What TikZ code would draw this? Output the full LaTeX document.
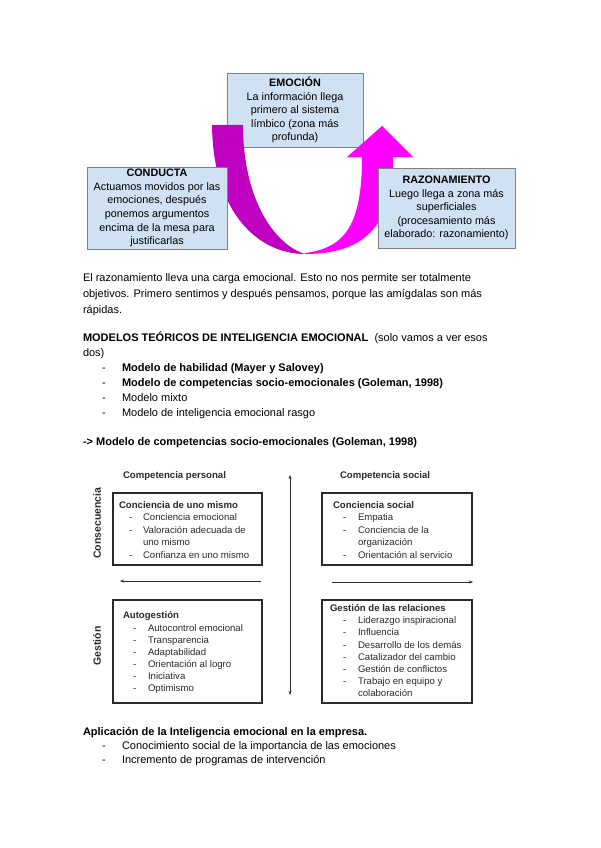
\documentclass[tikz,border=0pt]{standalone}
\usepackage{fontspec}
\setmainfont{Liberation Sans}
\usetikzlibrary{arrows.meta}
\definecolor{boxblue}{HTML}{CFE1F3}
\definecolor{boxline}{HTML}{808080}
\definecolor{magdark}{HTML}{C000C0}
\definecolor{magbright}{HTML}{FF00FF}
\definecolor{ink}{HTML}{2A2A2A}
\begin{document}
\begin{tikzpicture}[x=1pt,y=-1pt,
  every node/.style={inner sep=0pt,outer sep=0pt},
  topbox/.style={draw=boxline,fill=boxblue,line width=0.8pt,align=center,
    font=\fontsize{10.8}{13.6}\selectfont},
  body/.style={anchor=base west,font=\fontsize{11}{15}\selectfont},
  small/.style={anchor=base west,text=ink,font=\fontsize{9.6}{12}\selectfont},
  smallb/.style={small,font=\fontsize{9.6}{12}\selectfont\bfseries},
  compbox/.style={draw=ink,line width=1.2pt},
  thinarrow/.style={draw=ink,line width=0.6pt,-{Stealth[length=4pt,width=3pt]}}]
\useasboundingbox[fill=white] (0,0) rectangle (600,848);

% ---------- top diagram ----------
\node[topbox,minimum width=136pt,minimum height=74pt] (emo) at (295,110)
  {\textbf{EMOCIÓN}\\La información llega\\primero al sistema\\límbico (zona más\\profunda)};

\fill[magdark] (212,125) .. controls (213,215) and (260,254) .. (305,254)
  .. controls (275,245) and (243,200) .. (243,125) -- cycle;
\fill[magbright] (305,254) .. controls (370,254) and (393,220) .. (393,157)
  -- (413,157) -- (382,126) -- (347,157) -- (362,157)
  .. controls (362,225) and (345,248) .. (305,253) -- cycle;

\node[topbox,minimum width=140pt,minimum height=82pt] (cond) at (157,208)
  {\textbf{CONDUCTA}\\Actuamos movidos por las\\emociones, después\\ponemos argumentos\\encima de la mesa para\\justificarlas};
\node[topbox,minimum width=137pt,minimum height=80pt] (razo) at (446.5,208)
  {\textbf{RAZONAMIENTO}\\Luego llega a zona más\\superficiales\\(procesamiento más\\elaborado: razonamiento)};

% ---------- body text ----------
\node[body] (p1) at (83,281) {El razonamiento lleva una carga emocional. Esto no nos permite ser totalmente};
\node[body] (p2) at (83,297) {objetivos. Primero sentimos y después pensamos, porque las amígdalas son más};
\node[body] (p3) at (83,313) {rápidas.};

\node[body] (h1) at (83,341) {\textbf{MODELOS TEÓRICOS DE INTELIGENCIA EMOCIONAL}\ \ (solo vamos a ver esos};
\node[body] (h1b) at (83,356) {dos)};
\foreach \yy/\txt [count=\k] in {371/\textbf{Modelo de habilidad (Mayer y Salovey)},
  386/\textbf{Modelo de competencias socio-emocionales (Goleman, 1998)},
  401/Modelo mixto,416/Modelo de inteligencia emocional rasgo}{
  \node[body] (ld\k) at (102,\yy) {-};
  \node[body] (li\k) at (122,\yy) {\txt};
}
\node[body] (h2) at (83,445) {\textbf{-> Modelo de competencias socio-emocionales (Goleman, 1998)}};

% ---------- competence diagram ----------
\node[smallb] (cp) at (123,478.5) {Competencia personal};
\node[smallb] (cs) at (340,478.5) {Competencia social};
\node[rotate=90,font=\fontsize{10.5}{12}\selectfont\bfseries,text=ink] (cons) at (97,523) {Consecuencia};
\node[rotate=90,font=\fontsize{10.5}{12}\selectfont\bfseries,text=ink] (gest) at (97,646) {Gestión};

\coordinate (vtop) at (290,475);
\coordinate (vbot) at (290,695);
\draw[draw=ink,line width=0.6pt,{Stealth[length=4pt,width=3pt]}-{Stealth[length=4pt,width=3pt]}] (vbot) -- (vtop);
\coordinate (la) at (261,581);
\coordinate (lb) at (120,581);
\draw[thinarrow] (la) -- (lb);
\coordinate (ra) at (332,582);
\coordinate (rb) at (473,582);
\draw[thinarrow] (ra) -- (rb);

\node[compbox,minimum width=149pt,minimum height=72pt] (b1) at (187.5,529) {};
\node[compbox,minimum width=149pt,minimum height=103pt] (b2) at (187.5,651.5) {};
\node[compbox,minimum width=150pt,minimum height=72pt] (b3) at (397,529) {};
\node[compbox,minimum width=150pt,minimum height=103pt] (b4) at (397,651.5) {};

% box 1
\node[smallb] (t1) at (119,508.5) {Conciencia de uno mismo};
\foreach \yy/\txt [count=\k] in {520.5/Conciencia emocional,533/Valoración adecuada de,545.5/uno mismo,558/Confianza en uno mismo}{
  \node[small] (a\k) at (143,\yy) {\txt};}
\foreach \yy [count=\k] in {520.5,533,558}{\node[small] (ad\k) at (129,\yy) {-};}

% box 2
\node[smallb] (t2) at (123,618.5) {Autogestión};
\foreach \yy/\txt [count=\k] in {631/Autocontrol emocional,643/Transparencia,655/Adaptabilidad,667/Orientación al logro,679/Iniciativa,691/Optimismo}{
  \node[small] (b\k) at (148,\yy) {\txt};
  \node[small] (bd\k) at (133,\yy) {-};}

% box 3
\node[smallb] (t3) at (333,508.5) {Conciencia social};
\foreach \yy/\txt [count=\k] in {520.5/Empatia,533/Conciencia de la,545.5/organización,558/Orientación al servicio}{
  \node[small] (c\k) at (358,\yy) {\txt};}
\foreach \yy [count=\k] in {520.5,533,558}{\node[small] (cd\k) at (343,\yy) {-};}

% box 4
\node[smallb] (t4) at (330,611.5) {Gestión de las relaciones};
\foreach \yy/\txt [count=\k] in {623.5/Liderazgo inspiracional,635.5/Influencia,648/Desarrollo de los demás,660/Catalizador del cambio,672/Gestión de conflictos,684.5/Trabajo en equipo y,696.5/colaboración}{
  \node[small] (d\k) at (358,\yy) {\txt};}
\foreach \yy [count=\k] in {623.5,635.5,648,660,672,684.5}{\node[small] (dd\k) at (343,\yy) {-};}

% ---------- bottom text ----------
\node[body] (h3) at (83,735) {\textbf{Aplicación de la Inteligencia emocional en la empresa.}};
\foreach \yy/\txt [count=\k] in {749/Conocimiento social de la importancia de las emociones,763/Incremento de programas de intervención}{
  \node[body] (ed\k) at (102,\yy) {-};
  \node[body] (ei\k) at (122,\yy) {\txt};}
\end{tikzpicture}
\end{document}
